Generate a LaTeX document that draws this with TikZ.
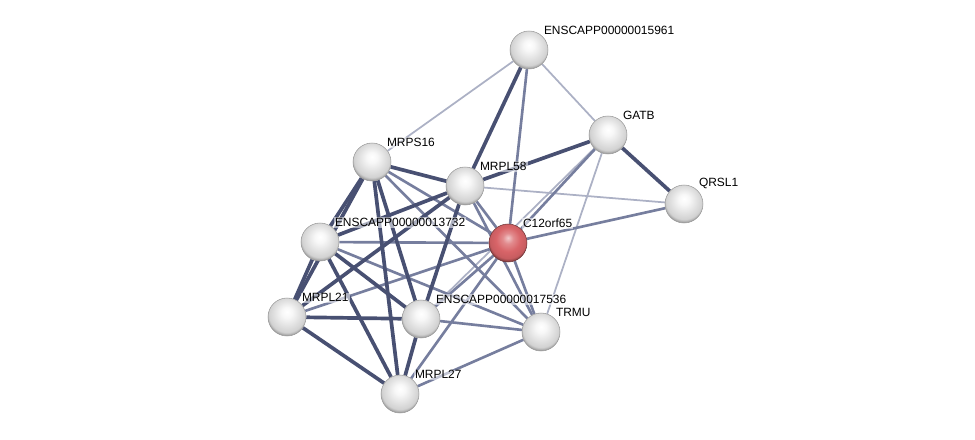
\documentclass[tikz,border=0pt]{standalone}
\usepackage{fontspec}
\setmainfont{Liberation Sans}
\usepackage{xcolor}
\usepackage{tikz}
\usetikzlibrary{backgrounds}
\definecolor{edgedark}{RGB}{72,80,114}
\definecolor{edgemid}{RGB}{118,126,158}
\definecolor{edgelight}{RGB}{172,177,197}
\definecolor{ballred}{RGB}{216,100,104}
\pgfdeclareradialshading{gball}{\pgfpoint{0bp}{7bp}}{%
  color(0bp)=(white); color(7bp)=(black!3); color(16bp)=(black!11);
  color(24bp)=(black!18); color(28bp)=(black!42); color(50bp)=(black!42)}
\pgfdeclareradialshading{rball}{\pgfpoint{0bp}{7bp}}{%
  color(0bp)=(white!65!ballred); color(7bp)=(white!25!ballred); color(16bp)=(ballred);
  color(24bp)=(ballred!92!black); color(28bp)=(ballred!55!black); color(50bp)=(ballred!55!black)}
\tikzset{
  prot/.style  ={circle, minimum size=0.76cm, inner sep=0pt, shading=gball,
                 draw=black!40, line width=0.3pt, label distance=1.3mm},
  query/.style ={prot, shading=rball, draw=ballred!50!black},
  lbl/.style   ={font=\fontsize{6.8}{8}\selectfont, inner sep=0.6pt,
                 fill=white, fill opacity=0.55, text opacity=1},
  hi/.style    ={draw=edgedark, line width=2.1pt},
  mid/.style   ={draw=edgemid, line width=1.5pt},
  lo/.style    ={draw=edgelight, line width=1pt}
}

\begin{document}
\begin{tikzpicture}[x=0.02cm, y=-0.02cm]
  \useasboundingbox (0,0) rectangle (975,440);
  \node[prot, label={[lbl]45:ENSCAPP00000015961}] (e59)    at (529,50)  {};
  \node[prot, label={[lbl]45:GATB}]               (gatb)   at (608,135) {};
  \node[prot, label={[lbl]45:QRSL1}]              (qrsl1)  at (684,204) {};
  \node[prot, label={[lbl]45:MRPS16}]             (mrps16) at (372,162) {};
  \node[prot, label={[lbl]45:MRPL58}]             (mrpl58) at (465,186) {};
  \node[prot, label={[lbl]45:ENSCAPP00000013732}] (e32)    at (320,242) {};
  \node[query,label={[lbl]45:C12orf65}]           (c12)    at (508,243) {};
  \node[prot, label={[lbl]45:MRPL21}]             (mrpl21) at (287,317) {};
  \node[prot, label={[lbl]45:ENSCAPP00000017536}] (e36)    at (421,319) {};
  \node[prot, label={[lbl]45:TRMU}]               (trmu)   at (541,332) {};
  \node[prot, label={[lbl]45:MRPL27}]             (mrpl27) at (400,394) {};

  \begin{scope}[on background layer]
    % weak links
    \draw[lo]  (e59)    -- (mrps16);
    \draw[lo]  (e59)    -- (gatb);
    \draw[lo]  (gatb)   -- (trmu);
    \draw[lo]  (gatb)   -- (e36);
    \draw[lo]  (qrsl1)  -- (mrpl58);
    % medium links
    \draw[mid] (e59)    -- (c12);
    \draw[mid] (gatb)   -- (c12);
    \draw[mid] (qrsl1)  -- (c12);
    \draw[mid] (mrps16) -- (c12);
    \draw[mid] (mrps16) -- (trmu);
    \draw[mid] (mrpl58) -- (c12);
    \draw[mid] (mrpl58) -- (trmu);
    \draw[mid] (e32)    -- (c12);
    \draw[mid] (e32)    -- (trmu);
    \draw[mid] (mrpl21) -- (c12);
    \draw[mid] (e36)    -- (c12);
    \draw[mid] (e36)    -- (trmu);
    \draw[mid] (mrpl27) -- (c12);
    \draw[mid] (mrpl27) -- (trmu);
    \draw[mid] (c12)    -- (trmu);
    % strong links
    \draw[hi]  (e59)    -- (mrpl58);
    \draw[hi]  (gatb)   -- (qrsl1);
    \draw[hi]  (gatb)   -- (mrpl58);
    \draw[hi]  (mrps16) -- (mrpl58);
    \draw[hi]  (mrps16) -- (e32);
    \draw[hi]  (mrps16) -- (mrpl21);
    \draw[hi]  (mrps16) -- (e36);
    \draw[hi]  (mrps16) -- (mrpl27);
    \draw[hi]  (mrpl58) -- (e32);
    \draw[hi]  (mrpl58) -- (mrpl21);
    \draw[hi]  (mrpl58) -- (e36);
    \draw[hi]  (e32)    -- (mrpl21);
    \draw[hi]  (e32)    -- (e36);
    \draw[hi]  (e32)    -- (mrpl27);
    \draw[hi]  (mrpl21) -- (e36);
    \draw[hi]  (mrpl21) -- (mrpl27);
    \draw[hi]  (e36)    -- (mrpl27);
  \end{scope}
\end{tikzpicture}
\end{document}
